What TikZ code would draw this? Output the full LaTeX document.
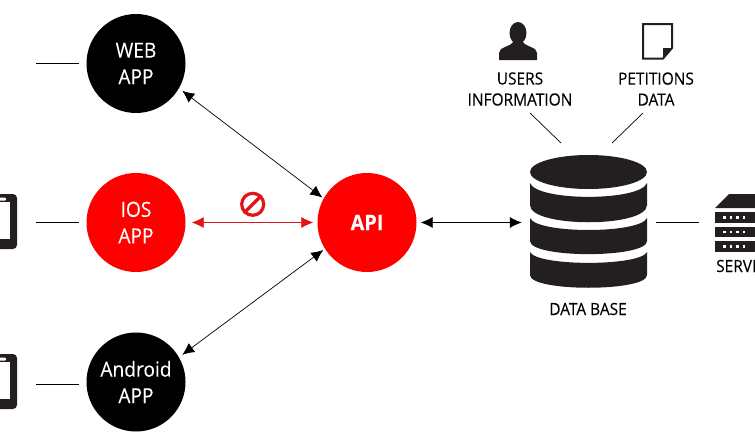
\documentclass[tikz,border=0pt]{standalone}
\usepackage{fontspec}
\setmainfont[FakeStretch=0.92,FakeBold=0.12]{Open Sans}
\usetikzlibrary{arrows.meta}
\definecolor{apired}{RGB}{255,0,0}
\definecolor{linkred}{RGB}{226,20,24}
\definecolor{iconblack}{RGB}{35,31,32}
\begin{document}
\begin{tikzpicture}[
  x=1pt, y=-1pt,
  appdot/.style={circle, fill=black, text=white, minimum size=99pt, inner sep=0pt, align=center, font=\fontsize{20.8}{26.5}\selectfont},
  reddot/.style={appdot, fill=apired},
  caption/.style={align=center, font=\fontsize{16.8}{21}\selectfont, inner sep=0pt},
  ghost/.style={inner sep=0pt, minimum width=#1, minimum height=#1},
  phone/.style={rectangle, rounded corners=4pt, fill=iconblack, minimum width=37pt, minimum height=55pt, inner sep=0pt},
  link/.style={<->, >={Latex[length=12pt,width=11pt]}, line width=0.7pt},
  plain/.style={line width=0.7pt},
  node distance=159pt
]
\path[use as bounding box, clip] (0,0) rectangle (755,434);

% Apps
\node[reddot] (ios) at (136,222.5) {IOS\\APP};
\node[appdot, above of=ios] (web) {WEB\\APP};
\node[appdot, below of=ios, yshift=-0.5pt] (android) {Android\\APP};
\node[reddot, right of=ios, node distance=231pt, font=\fontsize{21.5}{26}\selectfont\bfseries] (api) {API};

% Phones
\node[phone] (iphone) at (-1.5,221.5) {};
\node[phone] (aphone) at (-1.5,381.5) {};
\foreach \yp in {0,160} {
  \fill[white] (-15,202+\yp) rectangle (10,239+\yp);
  \fill[white, rounded corners=1pt] (-5,197.5+\yp) rectangle (6,200.5+\yp);
}
\coordinate (webend) at (36,63.5);
\coordinate (androidin) at (79,384);

% Data base
\node[ghost=117pt, minimum height=133pt] (dbase) at (588.5,222.5) {};
\fill[iconblack] (588.5,172) ellipse [x radius=58.5, y radius=17];
\foreach \ya/\yb/\yc/\yd in {183/201.5/205/228, 218/234/241/258.5, 252/266.5/275/292} {
  \fill[iconblack] (530,\ya) .. controls (537,\yb) and (640,\yb) .. (647,\ya)
    -- (647,\yc) .. controls (647,\yd) and (530,\yd) .. (530,\yc) -- cycle;
}
\node[caption, anchor=base] (dbname) at (588,315) {DATA BASE};
\coordinate (dbusers) at (561,143);
\coordinate (dbpetitions) at (612,143);

% Server
\node[ghost=40pt, anchor=west] (serv) at (715,222.5) {};
\fill[iconblack] (715,208) -- (729,194) -- (765,194) -- (765,208) -- cycle;
\foreach \yr in {212,226.5,241} {
  \fill[iconblack] (715,\yr) rectangle (765,\yr+10.5);
  \foreach \xd in {723,729.5,736,742.5}
    \fill[white] (\xd,\yr+4) rectangle (\xd+2.6,\yr+6.6);
}
\node[caption, anchor=base west] (servname) at (716,272) {SERVER};

% Users
\node[caption] (users) at (520,89) {USERS\\INFORMATION};
\coordinate (usersfoot) at (530,113);
\fill[iconblack] (518,33) ellipse [x radius=8.5, y radius=11];
\fill[iconblack] (499,60) -- (499,53) .. controls (499,47) and (510,47) .. (513,42)
  -- (523,42) .. controls (526,47) and (537,47) .. (537,53) -- (537,60) -- cycle;

% Petitions
\node[caption] (petitions) at (656,89) {PETITIONS\\DATA};
\coordinate (petitionsfoot) at (643,113);
\draw[iconblack, line width=2pt] (643,24) -- (672,24) -- (672,48) -- (663,58.5) -- (643,58.5) -- cycle;
\fill[iconblack] (672.5,48) -- (663,48) -- (663,59) -- cycle;

% Blocked sign
\node[circle, draw=linkred, line width=3.2pt, minimum size=22pt, inner sep=0pt] (stopsign) at (252.7,204.3) {};
\draw[linkred, line width=3.2pt] (stopsign.-135) -- (stopsign.45);

% Connections
\draw[plain, shorten >=7pt] (webend) -- (web);
\draw[plain, shorten <=19pt, shorten >=7pt] (iphone.east |- ios) -- (ios);
\draw[plain, shorten <=19pt] (aphone.east |- androidin) -- (androidin);
\draw[link, shorten <=4pt, shorten >=1.5pt] (web.-30) -- (api.151);
\draw[link, shorten <=4pt, shorten >=2pt] (android.30) -- (api.212);
\draw[link, draw=linkred, fill=linkred, shorten <=6pt, shorten >=4pt] (ios) -- (api);
\draw[link, shorten <=4pt, shorten >=8pt] (api) -- (dbase);
\draw[plain, shorten <=9pt, shorten >=16pt] (dbase) -- (serv);
\draw[plain] (usersfoot) -- (dbusers);
\draw[plain] (petitionsfoot) -- (dbpetitions);
\end{tikzpicture}
\end{document}
